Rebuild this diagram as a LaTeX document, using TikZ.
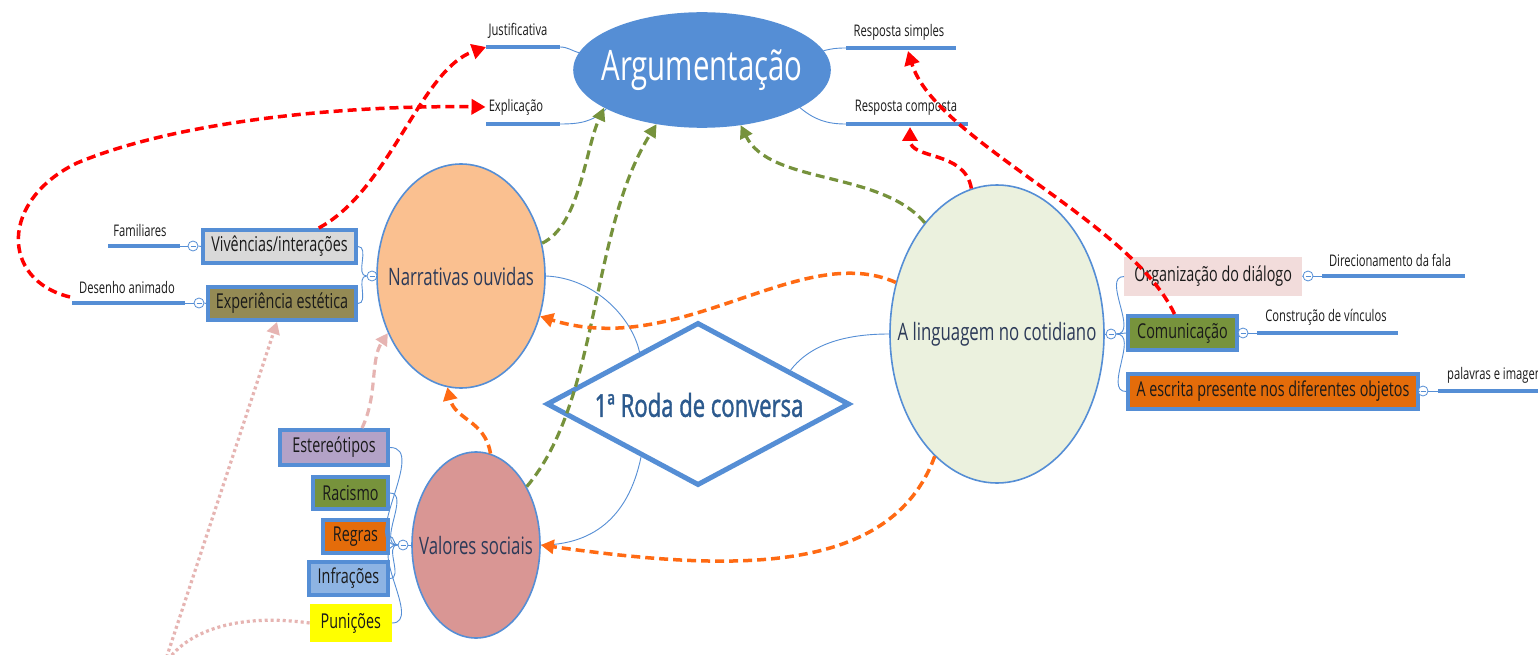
\documentclass[tikz,border=0pt]{standalone}
\usepackage{fontspec}
\setmainfont{Open Sans}[FakeStretch=0.7]
\newfontfamily\dmdfont{Open Sans}[FakeStretch=0.7,FakeBold=1.2]
\usetikzlibrary{shapes.geometric,arrows.meta,calc}
\definecolor{blu}{HTML}{558ED5}
\definecolor{ink}{HTML}{2C3A58}
\definecolor{boxink}{HTML}{1A1A1A}
\definecolor{dink}{HTML}{2C5A8E}
\definecolor{cnarr}{HTML}{FAC090}
\definecolor{cval}{HTML}{D99694}
\definecolor{cling}{HTML}{EBF1DE}
\definecolor{cviv}{HTML}{D9D9D9}
\definecolor{cexp}{HTML}{948A54}
\definecolor{cest}{HTML}{B3A2C7}
\definecolor{cgrn}{HTML}{77933C}
\definecolor{corg}{HTML}{E46C0A}
\definecolor{cinf}{HTML}{8EB4E3}
\definecolor{cyel}{HTML}{FFFF00}
\definecolor{cpink}{HTML}{F2DCDB}
\definecolor{ared}{HTML}{FF0000}
\definecolor{agrn}{HTML}{76923C}
\definecolor{aorg}{HTML}{FF6A13}
\definecolor{apnk}{HTML}{E6B4B2}
\begin{document}
\begin{tikzpicture}[x=1pt,y=-1pt,
  ell/.style={ellipse,draw=blu,line width=1.6pt,inner sep=0pt},
  etxt/.style={inner sep=0pt,text=ink,font=\fontsize{24}{28}\selectfont},
  bx/.style={rectangle,draw=blu,line width=4pt,inner sep=0pt,text=boxink,font=\fontsize{20.5}{24}\selectfont},
  nbx/.style={rectangle,inner sep=0pt,text=boxink,font=\fontsize{20.5}{24}\selectfont},
  lbl/.style={inner sep=0pt,text=boxink,font=\fontsize{16}{19}\selectfont},
  bar/.style={draw=blu,line width=4pt},
  thinc/.style={draw=blu,line width=0.9pt},
  knob/.style={circle,draw=blu,line width=0.8pt,fill=white,minimum size=10pt,inner sep=0pt,
    path picture={\draw[blu,line width=0.6pt] ([xshift=2.5pt]path picture bounding box.west) -- ([xshift=-2.5pt]path picture bounding box.east);}},
  redarr/.style={draw=ared,line width=3.5pt,dash pattern=on 9pt off 5pt,-{Triangle[length=14pt,width=15pt]}},
  grnarr/.style={draw=agrn,line width=3.2pt,dash pattern=on 9pt off 5pt,-{Triangle[length=13pt,width=13pt]}},
  orgarr/.style={draw=aorg,line width=3.5pt,dash pattern=on 9pt off 5pt,-{Triangle[length=13pt,width=14pt]}},
  pnkdash/.style={draw=apnk,line width=3.2pt,dash pattern=on 8pt off 5pt,-{Triangle[length=12pt,width=13pt]}},
  pnkdot/.style={draw=apnk,line width=3.2pt,dash pattern=on 3pt off 3pt,-{Triangle[length=12pt,width=13pt]}}
]
\clip (0,0) rectangle (1538,655);
\fill[white] (0,0) rectangle (1538,655);

% main ellipses (text set as centred labels)
\node[ell,fill=blu,minimum width=256pt,minimum height=114pt,
  label={[inner sep=0pt,text=white,font=\fontsize{42}{46}\selectfont]center:Argumentação}] (arg) at (702,70) {};
\node[ell,fill=cnarr,minimum width=168pt,minimum height=224pt,
  label={[etxt]center:Narrativas ouvidas}] (narr) at (461,276) {};
\node[ell,fill=cval,minimum width=128pt,minimum height=186pt,
  label={[etxt]center:Valores sociais}] (val) at (476,545) {};
\node[ell,fill=cling,minimum width=214pt,minimum height=298pt,
  label={[etxt]center:A linguagem no cotidiano}] (ling) at (997,334) {};

% diamond
\node[diamond,draw=blu,line width=5pt,fill=white,minimum width=303pt,minimum height=163pt,inner sep=0pt] (dmd) at (698,404) {};
\node[inner sep=0pt,text=dink,font=\dmdfont\fontsize{31.5}{35}\selectfont] (dtxt) at (699,405) {1ª Roda de conversa};

% boxes left of Narrativas
\node[bx,fill=cviv,minimum width=153pt,minimum height=33pt] (viv) at (279.5,246.5) {Vivências/interações};
\node[bx,fill=cexp,minimum width=148pt,minimum height=33pt] (exp) at (282,303.5) {Experiência estética};

% boxes left of Valores
\node[bx,fill=cest,minimum width=108pt,minimum height=35pt,anchor=east] (est) at (390,447.5) {Estereótipos};
\node[bx,fill=cgrn,minimum width=75pt,minimum height=32pt,anchor=east] (rac) at (390,493) {Racismo};
\node[bx,fill=corg,minimum width=65pt,minimum height=33pt,anchor=east] (reg) at (390,536.5) {Regras};
\node[bx,fill=cinf,minimum width=79pt,minimum height=33pt,anchor=east] (inf) at (390,578.5) {Infrações};
\node[nbx,fill=cyel,minimum width=82pt,minimum height=38pt,anchor=east] (pun) at (392,623) {Punições};

% boxes right of Linguagem
\node[nbx,fill=cpink,minimum width=178pt,minimum height=39pt,anchor=west] (org) at (1124,276.5) {Organização do diálogo};
\node[bx,fill=cgrn,minimum width=109pt,minimum height=34pt,anchor=west] (comm) at (1126,333) {Comunicação};
\node[bx,fill=corg,minimum width=290pt,minimum height=35pt,anchor=west] (esc) at (1126,391.5) {A escrita presente nos diferentes objetos};

% small labels with bars
\coordinate (jL) at (486,47); \coordinate (jR) at (560,47);
\coordinate (eL) at (486,124); \coordinate (eR) at (560,124);
\coordinate (rsL) at (846,48); \coordinate (rsR) at (956,48); \coordinate (rsM) at (908,51);
\coordinate (rcL) at (846,124); \coordinate (rcR) at (968,124); \coordinate (rcM) at (910,127);
\coordinate (fL) at (108,246); \coordinate (fR) at (180,246);
\coordinate (dL) at (72,303); \coordinate (dR) at (185,303);
\coordinate (drL) at (1322,276); \coordinate (drR) at (1465,276);
\coordinate (cvL) at (1257,333); \coordinate (cvR) at (1398,333);
\coordinate (pwL) at (1438,391); \coordinate (pwR) at (1560,391);

\draw[bar] (jL) -- (jR); \node[lbl] (jt) at (518,31) {Justificativa};
\draw[bar] (eL) -- (eR); \node[lbl] (et) at (516,107) {Explicação};
\draw[bar] (rsL) -- (rsR); \node[lbl] (rst) at (899,32) {Resposta simples};
\draw[bar] (rcL) -- (rcR); \node[lbl] (rct) at (906,108) {Resposta composta};
\draw[bar] (fL) -- (fR); \node[lbl] (ft) at (140,230) {Familiares};
\draw[bar] (dL) -- (dR); \node[lbl] (dt) at (127,287) {Desenho animado};
\draw[bar] (drL) -- (drR); \node[lbl] (drt) at (1390,260) {Direcionamento da fala};
\draw[bar] (cvL) -- (cvR); \node[lbl] (cvt) at (1326,317) {Construção de vínculos};
\draw[bar] (pwL) -- (pwR); \node[lbl,anchor=west] (pwt) at (1447,375) {palavras e imagens};

% thin connectors to Argumentação
\draw[thinc] (jR) to[out=0,in=165] (arg.172);
\draw[thinc] (eR) to[out=0,in=-135] (arg.-158);
\draw[thinc] (arg.9) to[out=15,in=180] (rsL);
\draw[thinc] (arg.-21) to[out=-40,in=180] (rcL);

% knobs and braces
\node[knob] (kf) at (193,246) {};
\draw[thinc] (fR) -- (kf.west); \draw[thinc] (kf.east) -- (viv.west);
\node[knob] (kd) at (199,303) {};
\draw[thinc] (dR) -- (kd.west); \draw[thinc] (kd.east) -- (exp.west);
\node[knob] (kn) at (372,276) {};
\draw[thinc] (viv.east) to[out=0,in=180] (kn.west);
\draw[thinc] (exp.east) to[out=0,in=180] (kn.west);
\draw[thinc] (kn.east) -- (narr.west);

\node[knob] (kv) at (403,545) {};
\foreach \b in {est,rac,reg,inf,pun} \draw[thinc] (\b.east) to[out=0,in=180] (kv.west);
\draw[thinc] (kv.east) -- (val.west);

\node[knob] (kl) at (1111,334) {};
\draw[thinc] (ling.east) -- (kl.west);
\foreach \b in {org,comm,esc} \draw[thinc] (kl.east) to[out=0,in=180] (\b.west);

\node[knob] (kdr) at (1308,276) {};
\draw[thinc] (org.east) -- (kdr.west); \draw[thinc] (kdr.east) -- (drL);
\node[knob] (kcv) at (1243,333) {};
\draw[thinc] (comm.east) -- (kcv.west); \draw[thinc] (kcv.east) -- (cvL);
\node[knob] (kpw) at (1423,391) {};
\draw[thinc] (esc.east) -- (kpw.west); \draw[thinc] (kpw.east) -- (pwL);

% thin connectors from diamond
\draw[thinc] (narr.east) .. controls (595,278) and (632,318) .. ($(dmd.west)!0.62!(dmd.north)$);
\draw[thinc] ($(dmd.west)!0.63!(dmd.south)$) .. controls (628,520) and (590,545) .. (val.east);
\draw[thinc] ($(dmd.east)!0.4!(dmd.north)$) .. controls (812,342) and (850,334) .. (ling.west);

% red dashed arrows
\coordinate (rs2) at (70,297);
\draw[redarr] ($(viv.north)!0.5!(viv.north east)$) .. controls (390,190) and (420,70) .. (jL);
\draw[redarr] (rs2) .. controls (0,280) and (0,200) .. (77,163) .. controls (180,120) and (350,105) .. ([xshift=-3pt]et.west);
\draw[redarr] ([xshift=-8pt]comm.north) .. controls (1130,220) and (935,140) .. (rsM);
\draw[redarr] (ling.100) .. controls (965,150) and (910,160) .. (rcM);

% green dashed arrows
\draw[grnarr] (narr.22) .. controls (580,225) and (585,150) .. (arg.-159);
\draw[grnarr] (val.49) .. controls (600,400) and (590,230) .. (arg.-130);
\draw[grnarr] (ling.123) .. controls (880,170) and (770,185) .. (arg.-55);

% orange dashed arrows
\draw[orgarr] (ling.153) .. controls (800,240) and (680,360) .. (narr.-27);
\draw[orgarr] (ling.-117) .. controls (890,580) and (720,570) .. (val.east);
\draw[orgarr] (val.81) .. controls (485,420) and (455,420) .. (narr.-97);

% pink arrows
\draw[pnkdash] ($(est.north)!0.5!(est.north east)$) .. controls (378,395) and (370,360) .. (narr.-142);
\draw[pnkdot] (pun.west) .. controls (230,612) and (180,635) .. (163,668) -- ([xshift=-5pt]exp.south);
\end{tikzpicture}
\end{document}
